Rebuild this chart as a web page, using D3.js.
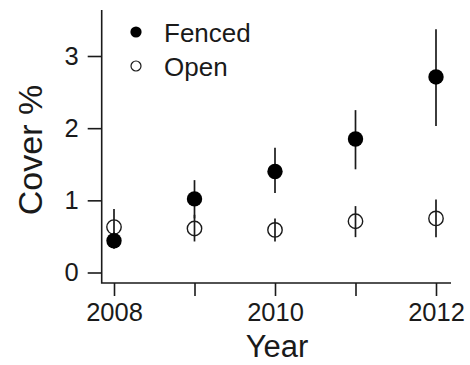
<!DOCTYPE html>
<html>
<head>
<meta charset="utf-8">
<script src="https://cdn.jsdelivr.net/npm/d3@7"></script>
<style>
  html, body { margin: 0; padding: 0; background: #fff; }
  svg { display: block; }
  text { font-family: "Liberation Sans", Arial, sans-serif; fill: #1a1a1a; }
</style>
</head>
<body>
<svg id="chart" width="470" height="365"></svg>
<script>
const years = [2008, 2009, 2010, 2011, 2012];
const fencedMean = [0.44, 1.02, 1.40, 1.85, 2.71];
const fencedLo   = [0.33, 0.75, 1.10, 1.43, 2.03];
const fencedHi   = [0.56, 1.28, 1.73, 2.25, 3.37];
const openMean = [0.63, 0.61, 0.59, 0.71, 0.75];
const openLo   = [0.40, 0.43, 0.43, 0.49, 0.49];
const openHi   = [0.88, 0.80, 0.75, 0.92, 1.01];
const xTicks = [2008, 2009, 2010, 2011, 2012];
const xTickLabels = ["2008", "", "2010", "", "2012"];
const yTicks = [0, 1, 2, 3];
const legendLabels = ["Fenced", "Open"];

const svg = d3.select("#chart");
const x = d3.scaleLinear().domain([2008, 2012]).range([114, 436]);
const y = d3.scaleLinear().domain([0, 3]).range([272.5, 56]);

const boxLeft = 101.7, boxBottom = 283, boxTop = 10, boxRight = 451;

// L-shaped box
svg.append("path")
  .attr("d", `M${boxLeft},${boxTop}V${boxBottom}H${boxRight}`)
  .attr("fill", "none").attr("stroke", "#1a1a1a").attr("stroke-width", 1.6);

// Y axis
const yAxis = svg.append("g").attr("transform", `translate(${boxLeft},0)`)
  .call(d3.axisLeft(y).tickValues(yTicks).tickFormat(d3.format("d")).tickSize(14).tickPadding(9));
yAxis.select(".domain").remove();
yAxis.selectAll("line").attr("stroke", "#1a1a1a").attr("stroke-width", 1.6);
yAxis.selectAll("text").attr("font-size", 25.5).attr("fill", "#1a1a1a")
  .style("font-family", "'Liberation Sans', Arial, sans-serif");

// X axis
const xAxis = svg.append("g").attr("transform", `translate(0,${boxBottom})`)
  .call(d3.axisBottom(x).tickValues(xTicks).tickFormat((d, i) => xTickLabels[i]).tickSize(13).tickPadding(7));
xAxis.select(".domain").remove();
xAxis.selectAll("line").attr("stroke", "#1a1a1a").attr("stroke-width", 1.6);
xAxis.selectAll("text").attr("font-size", 25.5).attr("fill", "#1a1a1a")
  .style("font-family", "'Liberation Sans', Arial, sans-serif");

// Axis titles
svg.append("text").attr("x", 277).attr("y", 357).attr("text-anchor", "middle")
  .attr("font-size", 31).text("Year");
svg.append("text").attr("transform", "translate(42,150) rotate(-90)")
  .attr("text-anchor", "middle").attr("font-size", 34).text("Cover %");

// Data
const fenced = years.map((yr, i) => ({yr, m: fencedMean[i], lo: fencedLo[i], hi: fencedHi[i]}));
const open = years.map((yr, i) => ({yr, m: openMean[i], lo: openLo[i], hi: openHi[i]}));

const g = svg.append("g");
g.selectAll("line.eo").data(open).join("line").attr("class", "eo")
  .attr("x1", d => x(d.yr)).attr("x2", d => x(d.yr))
  .attr("y1", d => y(d.lo)).attr("y2", d => y(d.hi))
  .attr("stroke", "#1a1a1a").attr("stroke-width", 1.7);
g.selectAll("line.ef").data(fenced).join("line").attr("class", "ef")
  .attr("x1", d => x(d.yr)).attr("x2", d => x(d.yr))
  .attr("y1", d => y(d.lo)).attr("y2", d => y(d.hi))
  .attr("stroke", "#1a1a1a").attr("stroke-width", 1.7);
g.selectAll("circle.po").data(open).join("circle").attr("class", "po")
  .attr("cx", d => x(d.yr)).attr("cy", d => y(d.m)).attr("r", 7.2)
  .attr("fill", "none").attr("stroke", "#1a1a1a").attr("stroke-width", 1.4);
g.selectAll("circle.pf").data(fenced).join("circle").attr("class", "pf")
  .attr("cx", d => x(d.yr)).attr("cy", d => y(d.m)).attr("r", 7.7)
  .attr("fill", "#000");

// Legend
const leg = svg.append("g");
leg.append("circle").attr("cx", 136).attr("cy", 32).attr("r", 5.6).attr("fill", "#000");
leg.append("circle").attr("cx", 136).attr("cy", 66).attr("r", 5).attr("fill", "none")
  .attr("stroke", "#1a1a1a").attr("stroke-width", 1.2);
leg.append("text").attr("x", 164).attr("y", 42).attr("font-size", 26).text(legendLabels[0]);
leg.append("text").attr("x", 164).attr("y", 75.5).attr("font-size", 26).text(legendLabels[1]);
</script>
</body>
</html>
